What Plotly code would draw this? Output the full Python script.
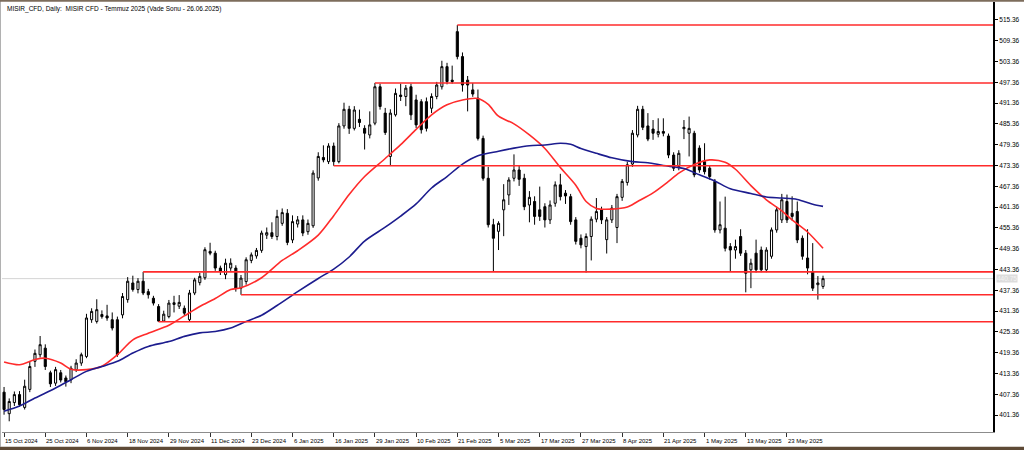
import pandas as pd
import plotly.graph_objects as go

# ---------------- data ----------------
holidays = ["2024-11-28", "2024-12-25", "2025-01-01", "2025-01-20",
            "2025-02-17", "2025-04-18", "2025-05-26"]
N_BARS = 160
dates = pd.bdate_range("2024-10-15", periods=N_BARS, freq="C", holidays=holidays)
date_keys = [d.strftime("%Y-%m-%d") for d in dates]

opens = [408.0, 401.8, 405.0, 407.3, 403.6, 408.8, 416.9, 418.8, 420.7, 413.6,
         410.6, 413.6, 412.1, 411.6, 414.5, 416.4, 418.3, 428.9, 428.4, 430.4,
         430.0, 428.9, 428.9, 430.3, 434.7, 439.5, 437.6, 440.0, 437.0, 435.1,
         432.7, 428.5, 429.8, 433.3, 432.8, 432.2, 428.9, 436.6, 439.6, 441.0,
         448.6, 448.1, 443.8, 441.9, 443.8, 443.8, 438.0, 439.9, 446.0, 447.3,
         448.9, 453.3, 454.0, 452.9, 456.7, 459.6, 451.9, 456.5, 457.7, 454.3,
         456.0, 469.8, 475.7, 474.5, 479.0, 474.5, 484.8, 489.6, 484.1, 486.7,
         484.1, 482.2, 485.6, 496.1, 488.5, 476.0, 488.0, 493.7, 493.3, 496.1,
         492.3, 491.8, 491.8, 489.9, 493.3, 496.1, 501.9, 498.0, 512.0, 504.8,
         498.0, 495.2, 492.8, 481.2, 469.7, 456.3, 454.4, 460.6, 464.9, 469.7,
         472.1, 469.7, 462.0, 463.0, 460.6, 461.5, 457.7, 462.5, 467.8, 465.4,
         464.4, 457.7, 452.4, 450.0, 452.9, 457.9, 460.6, 452.0, 457.7, 455.5,
         464.2, 468.5, 473.8, 482.2, 489.6, 484.8, 483.9, 482.4, 483.2, 481.9,
         476.4, 473.1, 484.0, 482.7, 482.7, 478.4, 474.5, 472.6, 468.8, 454.8,
         455.3, 450.0, 449.0, 452.9, 448.1, 443.3, 448.1, 449.0, 443.3, 447.2,
         454.8, 457.7, 463.0, 459.6, 460.1, 452.4, 446.7, 442.8, 439.0, 438.5]

highs = [409.5, 406.2, 408.2, 408.3, 411.6, 416.8, 420.3, 424.2, 421.8, 414.2,
         415.3, 414.4, 412.8, 415.6, 417.5, 419.4, 430.6, 432.2, 434.8, 431.6,
         433.2, 431.0, 429.8, 436.6, 441.2, 441.6, 440.9, 442.7, 437.8, 435.8,
         433.4, 431.5, 434.6, 435.8, 436.0, 433.0, 437.5, 441.0, 442.4, 449.8,
         451.1, 448.8, 444.5, 446.5, 446.6, 444.6, 441.8, 446.9, 448.3, 449.6,
         454.6, 455.5, 457.0, 460.6, 461.0, 460.8, 459.0, 458.8, 459.0, 457.8,
         472.0, 477.2, 479.2, 479.8, 480.0, 485.6, 491.5, 490.6, 490.5, 489.5,
         485.0, 489.0, 497.2, 497.0, 490.0, 489.6, 495.6, 497.0, 496.6, 497.0,
         493.8, 492.5, 493.0, 494.2, 497.5, 503.6, 503.0, 502.2, 513.9, 506.0,
         499.2, 497.2, 495.3, 482.0, 473.0, 458.0, 457.3, 468.0, 470.0, 476.6,
         473.5, 471.0, 466.0, 464.5, 467.3, 462.5, 463.3, 468.8, 471.0, 466.3,
         465.2, 458.5, 453.5, 453.8, 458.7, 464.0, 461.5, 458.5, 462.0, 465.2,
         469.5, 474.5, 483.6, 490.6, 490.6, 488.5, 486.5, 487.0, 487.0, 482.6,
         477.2, 477.8, 486.5, 487.5, 483.4, 479.2, 479.8, 473.4, 469.5, 463.0,
         464.4, 451.0, 452.0, 455.0, 449.0, 446.5, 452.0, 450.0, 449.8, 455.5,
         461.5, 465.2, 465.0, 464.5, 463.0, 453.2, 455.0, 451.0, 441.5, 441.6]

lows = [401.5, 399.6, 404.0, 403.8, 403.0, 408.0, 415.3, 418.0, 414.4, 409.5,
        409.8, 410.8, 409.6, 410.6, 413.8, 415.6, 417.8, 428.0, 427.8, 429.2,
        428.6, 425.8, 418.2, 429.3, 433.8, 437.0, 436.5, 436.0, 435.0, 433.0,
        428.3, 428.4, 429.3, 431.0, 432.0, 430.0, 428.4, 436.0, 438.8, 440.4,
        447.5, 443.0, 441.8, 440.6, 443.0, 437.0, 436.1, 439.0, 445.2, 446.5,
        448.2, 452.2, 452.2, 451.8, 456.0, 450.4, 451.0, 455.5, 453.0, 453.4,
        455.4, 469.0, 474.3, 473.8, 473.3, 474.0, 484.0, 482.5, 483.5, 484.5,
        478.0, 481.2, 485.0, 489.5, 482.2, 473.5, 487.5, 492.0, 490.5, 486.5,
        484.2, 482.6, 483.2, 488.5, 492.5, 495.3, 496.8, 497.0, 504.0, 494.7,
        489.0, 493.2, 480.6, 469.0, 455.5, 442.7, 449.0, 453.0, 462.0, 468.8,
        467.5, 460.5, 457.0, 456.3, 457.4, 455.5, 456.5, 461.5, 463.3, 462.3,
        456.3, 450.6, 449.5, 442.5, 446.0, 457.0, 456.5, 448.0, 456.8, 451.0,
        463.2, 467.6, 473.0, 481.5, 483.6, 480.4, 480.8, 481.5, 481.8, 475.5,
        471.8, 472.0, 481.0, 476.0, 470.0, 471.3, 470.8, 469.3, 454.0, 453.8,
        448.6, 442.8, 446.5, 447.3, 436.8, 438.0, 442.5, 442.6, 442.6, 446.5,
        454.0, 456.8, 456.8, 457.5, 451.0, 446.2, 442.0, 437.2, 434.7, 437.8]

closes = [403.0, 405.3, 407.3, 404.4, 409.7, 415.4, 419.2, 421.7, 415.4, 410.4,
          414.5, 411.5, 411.0, 414.9, 416.4, 418.8, 429.4, 431.3, 431.8, 429.8,
          429.4, 426.5, 418.8, 435.6, 440.0, 437.6, 440.0, 436.6, 436.1, 433.7,
          428.5, 430.5, 433.7, 433.8, 433.9, 430.8, 436.6, 440.4, 441.4, 449.1,
          448.1, 443.8, 442.8, 445.2, 445.2, 438.0, 440.9, 446.2, 447.6, 448.9,
          453.9, 454.0, 452.9, 458.7, 459.8, 451.2, 457.2, 457.7, 453.9, 456.7,
          471.2, 476.0, 475.0, 479.0, 474.5, 484.8, 489.6, 484.1, 489.4, 485.8,
          482.7, 485.1, 496.1, 490.4, 482.9, 488.5, 494.2, 493.3, 495.7, 488.0,
          485.1, 483.7, 484.1, 493.3, 496.6, 501.9, 497.6, 497.6, 504.8, 496.6,
          496.6, 494.0, 481.2, 469.7, 456.3, 452.4, 456.7, 463.5, 469.2, 472.1,
          469.4, 461.5, 464.2, 458.7, 458.7, 457.7, 462.0, 467.8, 464.4, 464.6,
          457.2, 451.5, 450.5, 452.9, 457.9, 460.1, 457.7, 457.7, 461.1, 464.4,
          468.8, 473.6, 482.7, 489.6, 484.4, 481.0, 482.7, 483.2, 482.7, 476.4,
          472.6, 476.9, 484.4, 484.1, 470.7, 472.1, 471.6, 470.2, 454.8, 456.3,
          449.5, 449.0, 450.0, 448.1, 442.3, 445.2, 443.3, 443.3, 449.0, 454.8,
          460.6, 463.5, 457.7, 458.7, 451.9, 447.2, 443.8, 438.0, 439.5, 440.75]

# moving averages (bar number, value)
red_ma_bars = [0, 3, 6, 8, 11, 13, 16, 19, 22, 25, 28, 32, 35, 38, 41, 44, 46, 50,
               54, 57, 61, 64, 67, 70, 74, 77, 80, 83, 86, 89, 92, 94, 96, 99, 102,
               105, 108, 111, 113, 115, 118, 121, 123, 126, 129, 131, 134, 137, 140,
               142, 145, 148, 151, 153, 156, 159]
red_ma_vals = [416.7, 415.9, 417.4, 417.8, 416.4, 414.6, 414.5, 415.5, 418.8, 423.1,
               425.0, 427.3, 430.0, 432.7, 435.0, 437.6, 438.1, 441.0, 446.0, 448.8,
               453.3, 458.9, 465.0, 470.2, 475.4, 479.4, 483.8, 488.0, 490.9, 492.3,
               492.7, 491.0, 487.6, 485.4, 482.2, 478.3, 472.8, 467.7, 463.0, 461.0,
               460.8, 461.4, 463.0, 465.5, 468.8, 471.2, 473.7, 475.0, 474.3, 472.3,
               467.6, 463.5, 460.3, 457.7, 454.2, 449.5]

blue_ma_bars = [0, 3, 6, 10, 13, 16, 19, 22, 25, 28, 32, 35, 38, 41, 44, 47, 50, 53,
                57, 61, 64, 67, 70, 74, 77, 80, 83, 86, 89, 92, 96, 99, 102, 105, 108,
                110, 112, 115, 118, 122, 125, 128, 132, 135, 138, 141, 145, 148, 151,
                154, 157, 159]
blue_ma_vals = [402.5, 404.0, 406.3, 409.2, 411.6, 414.0, 415.4, 416.9, 419.3, 421.2,
                422.6, 424.1, 425.1, 425.5, 426.5, 428.4, 430.2, 433.0, 437.0, 440.8,
                443.5, 447.0, 451.6, 455.6, 458.8, 462.3, 466.9, 470.2, 473.8, 476.2,
                477.5, 478.4, 479.1, 479.3, 479.8, 479.5, 478.3, 476.9, 475.6, 474.5,
                474.2, 473.4, 472.5, 470.7, 468.9, 466.7, 465.3, 464.3, 464.0, 463.6,
                462.2, 461.6]

# horizontal support / resistance levels and the bar each one starts from
level_prices = [513.9, 497.2, 473.3, 442.7, 436.1, 428.3]
level_start_bars = [88, 72, 64, 27, 46, 30]

last_price = 440.75

y_ticks = [401.36 + 6 * k for k in range(20)]
tick_dates = ["2024-10-15", "2024-10-25", "2024-11-06", "2024-11-18", "2024-11-29",
              "2024-12-11", "2024-12-23", "2025-01-06", "2025-01-16", "2025-01-29",
              "2025-02-10", "2025-02-21", "2025-03-05", "2025-03-17", "2025-03-27",
              "2025-04-08", "2025-04-21", "2025-05-01", "2025-05-13", "2025-05-23"]
tick_labels = ["15 Oct 2024", "25 Oct 2024", "6 Nov 2024", "18 Nov 2024", "29 Nov 2024",
               "11 Dec 2024", "23 Dec 2024", "6 Jan 2025", "16 Jan 2025", "29 Jan 2025",
               "10 Feb 2025", "21 Feb 2025", "5 Mar 2025", "17 Mar 2025", "27 Mar 2025",
               "8 Apr 2025", "21 Apr 2025", "1 May 2025", "13 May 2025", "23 May 2025"]

title_text = "MISIR_CFD, Daily:  MISIR CFD - Temmuz 2025 (Vade Sonu - 26.06.2025)"

# ---------------- figure ----------------
FONT = "Liberation Sans"
RED = "#ff2b2b"
BLUE = "#1c1c8e"

fig = go.Figure()

fig.add_trace(go.Candlestick(
    x=date_keys, open=opens, high=highs, low=lows, close=closes,
    increasing=dict(line=dict(color="black", width=1), fillcolor="white"),
    decreasing=dict(line=dict(color="black", width=1), fillcolor="black"),
    whiskerwidth=0, showlegend=False, hoverinfo="skip",
))

fig.add_trace(go.Scatter(
    x=[date_keys[i] for i in red_ma_bars], y=red_ma_vals, mode="lines",
    line=dict(color=RED, width=1.6, shape="spline", smoothing=0.8),
    showlegend=False, hoverinfo="skip",
))
fig.add_trace(go.Scatter(
    x=[date_keys[i] for i in blue_ma_bars], y=blue_ma_vals, mode="lines",
    line=dict(color=BLUE, width=1.6, shape="spline", smoothing=0.8),
    showlegend=False, hoverinfo="skip",
))

X_MAX = 192.0
shapes = []
# current price line
shapes.append(dict(type="line", xref="paper", yref="y", x0=0, x1=1,
                   y0=last_price, y1=last_price,
                   line=dict(color="#d4d4d4", width=1), layer="below"))
for p, b in zip(level_prices, level_start_bars):
    shapes.append(dict(type="line", xref="x", yref="y", x0=b, x1=X_MAX,
                       y0=p, y1=p, line=dict(color=RED, width=1.6)))

# window frame
shapes.append(dict(type="rect", xref="paper", yref="paper", x0=-0.01, x1=1.04,
                   y0=-0.0345, y1=-0.06, fillcolor="#5e4a36", line=dict(width=0)))
shapes.append(dict(type="line", xref="paper", yref="paper", x0=-0.002, x1=-0.002,
                   y0=-0.035, y1=1.01, line=dict(color="#9a9a9a", width=1.5)))
shapes.append(dict(type="line", xref="paper", yref="paper", x0=-0.01, x1=1.04,
                   y0=1.003, y1=1.003, line=dict(color="#7d6d5c", width=2)))

annotations = []
annotations.append(dict(text=title_text, xref="paper", yref="paper", x=0, y=1,
                        xanchor="left", yanchor="top", xshift=3, yshift=-1,
                        showarrow=False, font=dict(family=FONT, size=6.5, color="black")))
for d, lbl in zip(tick_dates, tick_labels):
    annotations.append(dict(text=lbl, xref="x", yref="paper", x=date_keys.index(d), y=0,
                            xanchor="left", yanchor="top", xshift=-1, yshift=-4,
                            showarrow=False, font=dict(family=FONT, size=6, color="black")))
annotations.append(dict(text=f"{last_price:.2f}", xref="paper", yref="y", x=1, y=last_price,
                        xanchor="left", yanchor="middle", xshift=3, showarrow=False,
                        bgcolor="#dcdcdc", borderpad=0,
                        font=dict(family=FONT, size=6.5, color="#f4f4f4")))

fig.update_layout(
    width=1024, height=450,
    margin=dict(l=2, r=31, t=2, b=18),
    paper_bgcolor="white", plot_bgcolor="white",
    boxgap=0.42,
    shapes=shapes, annotations=annotations,
    font=dict(family=FONT, size=6.5, color="black"),
    xaxis=dict(type="category", range=[-0.4, X_MAX], rangeslider=dict(visible=False),
               showgrid=False, zeroline=False, showline=True, linecolor="#8c8c8c",
               linewidth=1, ticks="outside", ticklen=4, tickcolor="#303030",
               tickvals=tick_dates, showticklabels=False, fixedrange=True),
    yaxis=dict(side="right", range=[396.51, 520.55], showgrid=False, zeroline=False,
               showline=True, linecolor="black", linewidth=2, mirror=False,
               ticks="outside", ticklen=3, tickcolor="black",
               tickvals=y_ticks, ticktext=[f"{v:.2f}" for v in y_ticks],
               ticklabelstandoff=0,
               tickfont=dict(family=FONT, size=6.5, color="black"), fixedrange=True),
)

fig.write_html("out.html", config={"displayModeBar": False, "staticPlot": True},
               post_script="document.body.style.margin='0';document.body.style.background='white';")
